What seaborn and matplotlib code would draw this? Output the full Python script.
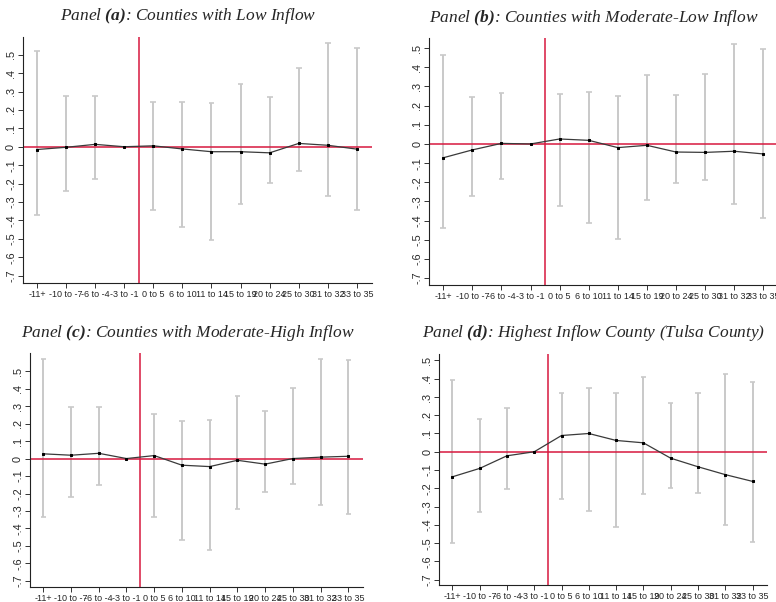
import numpy as np
import seaborn as sns
import matplotlib.pyplot as plt

periods = ["-11+", "-10 to -7", "-6 to -4", "-3 to -1", "0 to 5", "6 to 10",
           "11 to 14", "15 to 19", "20 to 24", "25 to 30", "31 to 32", "33 to 35"]

# panel (a): low inflow
coef_a = [-0.015, -0.003, 0.013, 0.0, 0.005, -0.012, -0.027, -0.027, -0.033, 0.018, 0.008, -0.013]
hi_a = [0.52, 0.275, 0.275, np.nan, 0.245, 0.243, 0.24, 0.34, 0.27, 0.425, 0.565, 0.535]
lo_a = [-0.372, -0.24, -0.175, np.nan, -0.345, -0.437, -0.505, -0.31, -0.195, -0.13, -0.268, -0.342]

# panel (b): moderate-low inflow
coef_b = [-0.072, -0.031, 0.003, 0.0, 0.026, 0.019, -0.019, -0.007, -0.042, -0.044, -0.038, -0.052]
hi_b = [0.466, 0.244, 0.265, np.nan, 0.263, 0.272, 0.248, 0.358, 0.258, 0.366, 0.522, 0.496]
lo_b = [-0.436, -0.272, -0.183, np.nan, -0.325, -0.41, -0.497, -0.29, -0.202, -0.19, -0.314, -0.386]

# panel (c): moderate-high inflow
coef_c = [0.027, 0.019, 0.03, 0.0, 0.017, -0.038, -0.046, -0.01, -0.032, 0.0, 0.008, 0.013]
hi_c = [0.567, 0.297, 0.293, np.nan, 0.255, 0.217, 0.222, 0.356, 0.27, 0.405, 0.567, 0.561]
lo_c = [-0.335, -0.221, -0.154, np.nan, -0.335, -0.464, -0.521, -0.289, -0.194, -0.146, -0.268, -0.319]

# panel (d): Tulsa county
coef_d = [-0.137, -0.091, -0.022, 0.0, 0.089, 0.1, 0.062, 0.049, -0.035, -0.082, -0.125, -0.162]
hi_d = [0.392, 0.182, 0.237, np.nan, 0.324, 0.35, 0.324, 0.41, 0.266, 0.324, 0.428, 0.383]
lo_d = [-0.497, -0.328, -0.206, np.nan, -0.259, -0.322, -0.413, -0.231, -0.196, -0.228, -0.4, -0.493]

titles = [r"Panel $\mathbf{(a)}$: Counties with Low Inflow",
          r"Panel $\mathbf{(b)}$: Counties with Moderate-Low Inflow",
          r"Panel $\mathbf{(c)}$: Counties with Moderate-High Inflow",
          r"Panel $\mathbf{(d)}$: Highest Inflow County (Tulsa County)"]

sns.set_style("ticks")
plt.rcParams['font.family'] = ['Liberation Sans', 'DejaVu Sans']
plt.rcParams['mathtext.fontset'] = 'custom'
plt.rcParams['mathtext.it'] = 'Liberation Serif:italic'
plt.rcParams['mathtext.rm'] = 'Liberation Serif:italic'
plt.rcParams['mathtext.bf'] = 'Liberation Serif:italic:bold'

W, H = 776, 602
fig = plt.figure(figsize=(W / 100, H / 100), dpi=100)

# pixel boxes: left, right, top, bottom, ylim, title center
boxes = [
    (23, 372, 37, 283, (-0.74, 0.596), (188, 16)),
    (429.3, 778.4, 38, 285, (-0.736, 0.553), (594, 18)),
    (30, 362.7, 353.3, 586.7, (-0.733, 0.602), (188, 333)),
    (439.3, 766.7, 354, 585, (-0.729, 0.535), (594, 333)),
]
data = [(coef_a, hi_a, lo_a), (coef_b, hi_b, lo_b), (coef_c, hi_c, lo_c), (coef_d, hi_d, lo_d)]

red = "#d7193f"
x = np.arange(len(periods))
yt = [-0.7, -0.6, -0.5, -0.4, -0.3, -0.2, -0.1, 0, 0.1, 0.2, 0.3, 0.4, 0.5]
ylabels = ["-.7", "-.6", "-.5", "-.4", "-.3", "-.2", "-.1", "0", ".1", ".2", ".3", ".4", ".5"]

for (l, r, t, b, ylim, tc), (coef, hi, lo), title in zip(boxes, data, titles):
    ax = fig.add_axes([l / W, 1 - b / H, (r - l) / W, (b - t) / H])
    hi = np.array(hi)
    lo = np.array(lo)
    m = ~np.isnan(hi)
    ax.vlines(x[m], lo[m], hi[m], color="#c9c9c9", lw=1.4, zorder=1)
    ax.hlines(np.r_[lo[m], hi[m]], np.r_[x[m], x[m]] - 0.1, np.r_[x[m], x[m]] + 0.1,
              color="#c9c9c9", lw=1.2, zorder=1)
    ax.axhline(0, color=red, lw=1.1, zorder=2)
    ax.axvline(3.5, color=red, lw=1.1, zorder=2)
    sns.lineplot(x=x, y=coef, ax=ax, color="#3a3a3a", lw=0.9, marker="s", ms=2.0,
                 markeredgecolor="black", markerfacecolor="black", zorder=3)
    ax.set_xlim(-0.48, 11.52)
    ax.set_ylim(*ylim)
    ax.set_xticks(x)
    ax.set_xticklabels(periods, fontsize=6.5)
    ax.set_yticks(yt)
    ax.set_yticklabels(ylabels, fontsize=7.8, rotation=90, va="center")
    ax.tick_params(length=3.5, width=0.7, color="#333333", pad=1.5)
    sns.despine(ax=ax)
    for s in ["left", "bottom"]:
        ax.spines[s].set_linewidth(0.8)
        ax.spines[s].set_color("#222222")
    fig.text(tc[0] / W, 1 - tc[1] / H, title, ha="center", va="center",
             fontsize=12.5, family="Liberation Serif", style="italic")

fig.savefig("out.png", dpi=100)
